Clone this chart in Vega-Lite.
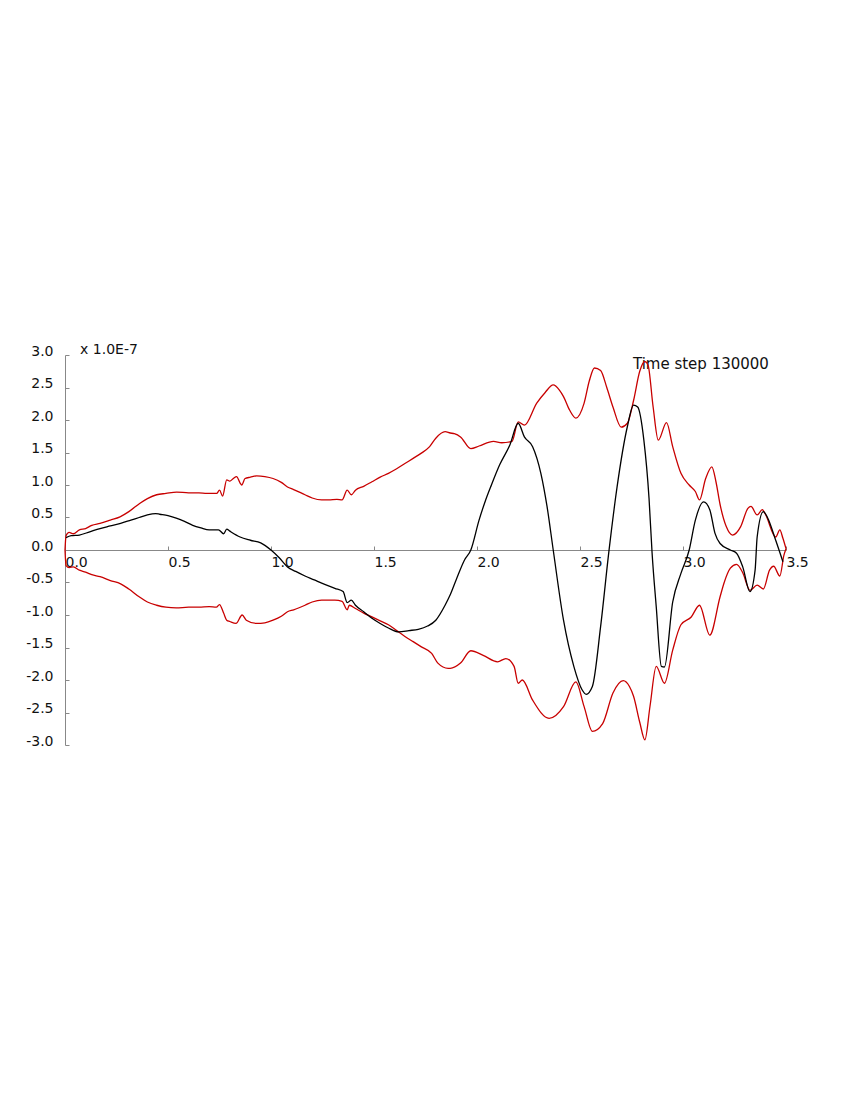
{
  "$schema": "https://vega.github.io/schema/vega-lite/v6.json",
  "width": 721,
  "height": 390,
  "autosize": {"type": "none"},
  "padding": {"left": 65, "top": 355, "right": 64, "bottom": 355},
  "background": "white",
  "config": {
    "view": {"stroke": null},
    "axis": {"labelOverlap": false, "labelSeparation": 0, "labelBound": false, "labelFlush": false, "grid": false, "domainColor": "#888888", "tickColor": "#888888", "tickSize": -4, "labelFont": "DejaVu Sans", "labelFontSize": 14, "labelColor": "#111111", "title": null},
    "axisY": {"labelAlign": "right", "labelBaseline": "alphabetic", "labelPadding": 16, "labelOverlap": false},
    "axisX": {"labelAlign": "left", "labelBaseline": "top", "labelPadding": 9, "labelDx": 1, "labelOverlap": false}
  },
  "datasets": {
    "upper": [
      {"x":0,"y":0},{"x":0.005,"y":0.22},{"x":0.02,"y":0.27},{"x":0.04,"y":0.25},{"x":0.07,"y":0.31},{"x":0.1,"y":0.33},{"x":0.13,"y":0.38},{"x":0.17,"y":0.41},{"x":0.22,"y":0.46},{"x":0.267,"y":0.51},{"x":0.31,"y":0.59},{"x":0.364,"y":0.72},{"x":0.4,"y":0.79},{"x":0.445,"y":0.85},{"x":0.49,"y":0.87},{"x":0.542,"y":0.89},{"x":0.6,"y":0.88},{"x":0.65,"y":0.88},{"x":0.688,"y":0.87},{"x":0.736,"y":0.87},{"x":0.75,"y":0.92},{"x":0.765,"y":0.83},{"x":0.785,"y":1.08},{"x":0.8,"y":1.06},{"x":0.817,"y":1.1},{"x":0.833,"y":1.13},{"x":0.85,"y":1.03},{"x":0.858,"y":1.0},{"x":0.874,"y":1.1},{"x":0.9,"y":1.12},{"x":0.93,"y":1.14},{"x":0.97,"y":1.13},{"x":1.01,"y":1.1},{"x":1.05,"y":1.04},{"x":1.08,"y":0.97},{"x":1.11,"y":0.93},{"x":1.165,"y":0.85},{"x":1.2,"y":0.8},{"x":1.246,"y":0.77},{"x":1.28,"y":0.77},{"x":1.32,"y":0.78},{"x":1.345,"y":0.77},{"x":1.37,"y":0.92},{"x":1.39,"y":0.85},{"x":1.41,"y":0.92},{"x":1.45,"y":0.98},{"x":1.49,"y":1.05},{"x":1.53,"y":1.12},{"x":1.57,"y":1.18},{"x":1.61,"y":1.25},{"x":1.65,"y":1.33},{"x":1.69,"y":1.41},{"x":1.73,"y":1.49},{"x":1.77,"y":1.59},{"x":1.8,"y":1.72},{"x":1.845,"y":1.82},{"x":1.87,"y":1.8},{"x":1.89,"y":1.79},{"x":1.92,"y":1.74},{"x":1.97,"y":1.56},{"x":2.01,"y":1.6},{"x":2.08,"y":1.67},{"x":2.12,"y":1.65},{"x":2.17,"y":1.67},{"x":2.2,"y":1.97},{"x":2.23,"y":1.92},{"x":2.29,"y":2.26},{"x":2.33,"y":2.42},{"x":2.37,"y":2.54},{"x":2.4,"y":2.46},{"x":2.42,"y":2.36},{"x":2.45,"y":2.15},{"x":2.48,"y":2.03},{"x":2.52,"y":2.26},{"x":2.545,"y":2.6},{"x":2.57,"y":2.8},{"x":2.6,"y":2.76},{"x":2.63,"y":2.5},{"x":2.66,"y":2.2},{"x":2.7,"y":1.89},{"x":2.73,"y":1.95},{"x":2.76,"y":2.3},{"x":2.79,"y":2.75},{"x":2.815,"y":2.9},{"x":2.83,"y":2.85},{"x":2.855,"y":2.2},{"x":2.88,"y":1.69},{"x":2.92,"y":1.96},{"x":2.95,"y":1.59},{"x":2.99,"y":1.18},{"x":3.03,"y":1.0},{"x":3.06,"y":0.9},{"x":3.08,"y":0.77},{"x":3.11,"y":1.1},{"x":3.14,"y":1.28},{"x":3.16,"y":1.05},{"x":3.18,"y":0.7},{"x":3.21,"y":0.36},{"x":3.24,"y":0.23},{"x":3.28,"y":0.36},{"x":3.315,"y":0.64},{"x":3.33,"y":0.67},{"x":3.36,"y":0.54},{"x":3.385,"y":0.62},{"x":3.4,"y":0.55},{"x":3.45,"y":0.2},{"x":3.47,"y":0.31},{"x":3.485,"y":0.18},{"x":3.5,"y":0.02}
    ],
    "lower": [
      {"x":0,"y":0},{"x":0.005,"y":-0.24},{"x":0.02,"y":-0.27},{"x":0.04,"y":-0.26},{"x":0.07,"y":-0.31},{"x":0.1,"y":-0.34},{"x":0.13,"y":-0.38},{"x":0.17,"y":-0.41},{"x":0.22,"y":-0.47},{"x":0.27,"y":-0.52},{"x":0.31,"y":-0.6},{"x":0.36,"y":-0.72},{"x":0.4,"y":-0.8},{"x":0.445,"y":-0.85},{"x":0.49,"y":-0.88},{"x":0.54,"y":-0.89},{"x":0.6,"y":-0.88},{"x":0.65,"y":-0.88},{"x":0.7,"y":-0.87},{"x":0.735,"y":-0.88},{"x":0.75,"y":-0.84},{"x":0.77,"y":-0.97},{"x":0.785,"y":-1.08},{"x":0.8,"y":-1.1},{"x":0.83,"y":-1.13},{"x":0.86,"y":-1.0},{"x":0.88,"y":-1.08},{"x":0.93,"y":-1.13},{"x":0.97,"y":-1.12},{"x":1.01,"y":-1.08},{"x":1.05,"y":-1.02},{"x":1.08,"y":-0.95},{"x":1.11,"y":-0.92},{"x":1.165,"y":-0.85},{"x":1.2,"y":-0.8},{"x":1.246,"y":-0.77},{"x":1.31,"y":-0.77},{"x":1.345,"y":-0.79},{"x":1.37,"y":-0.92},{"x":1.38,"y":-0.85},{"x":1.41,"y":-0.9},{"x":1.45,"y":-0.97},{"x":1.49,"y":-1.03},{"x":1.53,"y":-1.09},{"x":1.57,"y":-1.15},{"x":1.61,"y":-1.24},{"x":1.65,"y":-1.33},{"x":1.69,"y":-1.41},{"x":1.73,"y":-1.49},{"x":1.78,"y":-1.59},{"x":1.81,"y":-1.74},{"x":1.86,"y":-1.82},{"x":1.87,"y":-1.82},{"x":1.92,"y":-1.74},{"x":1.97,"y":-1.55},{"x":2.03,"y":-1.62},{"x":2.1,"y":-1.72},{"x":2.14,"y":-1.67},{"x":2.18,"y":-1.79},{"x":2.2,"y":-2.05},{"x":2.22,"y":-2.0},{"x":2.27,"y":-2.31},{"x":2.35,"y":-2.59},{"x":2.42,"y":-2.41},{"x":2.48,"y":-2.03},{"x":2.52,"y":-2.41},{"x":2.56,"y":-2.79},{"x":2.61,"y":-2.67},{"x":2.66,"y":-2.2},{"x":2.71,"y":-2.01},{"x":2.74,"y":-2.1},{"x":2.76,"y":-2.25},{"x":2.79,"y":-2.65},{"x":2.815,"y":-2.92},{"x":2.84,"y":-2.4},{"x":2.87,"y":-1.79},{"x":2.91,"y":-2.05},{"x":2.95,"y":-1.54},{"x":2.99,"y":-1.15},{"x":3.04,"y":-1.03},{"x":3.08,"y":-0.85},{"x":3.13,"y":-1.31},{"x":3.18,"y":-0.72},{"x":3.2,"y":-0.5},{"x":3.23,"y":-0.28},{"x":3.26,"y":-0.22},{"x":3.29,"y":-0.35},{"x":3.325,"y":-0.62},{"x":3.36,"y":-0.54},{"x":3.39,"y":-0.6},{"x":3.42,"y":-0.31},{"x":3.44,"y":-0.25},{"x":3.47,"y":-0.4},{"x":3.49,"y":-0.08},{"x":3.5,"y":0.02}
    ],
    "signal": [
      {"x":0.005,"y":0.19},{"x":0.03,"y":0.22},{"x":0.07,"y":0.23},{"x":0.12,"y":0.28},{"x":0.17,"y":0.33},{"x":0.22,"y":0.37},{"x":0.27,"y":0.41},{"x":0.32,"y":0.46},{"x":0.36,"y":0.5},{"x":0.4,"y":0.54},{"x":0.44,"y":0.56},{"x":0.46,"y":0.55},{"x":0.5,"y":0.53},{"x":0.54,"y":0.49},{"x":0.58,"y":0.44},{"x":0.62,"y":0.38},{"x":0.66,"y":0.34},{"x":0.7,"y":0.31},{"x":0.745,"y":0.31},{"x":0.77,"y":0.25},{"x":0.785,"y":0.32},{"x":0.8,"y":0.29},{"x":0.85,"y":0.2},{"x":0.9,"y":0.15},{"x":0.95,"y":0.11},{"x":1.0,"y":0.0},{"x":1.04,"y":-0.12},{"x":1.08,"y":-0.26},{"x":1.12,"y":-0.33},{"x":1.165,"y":-0.4},{"x":1.21,"y":-0.46},{"x":1.246,"y":-0.51},{"x":1.31,"y":-0.59},{"x":1.35,"y":-0.64},{"x":1.37,"y":-0.81},{"x":1.39,"y":-0.77},{"x":1.41,"y":-0.85},{"x":1.45,"y":-0.95},{"x":1.49,"y":-1.05},{"x":1.53,"y":-1.13},{"x":1.57,"y":-1.2},{"x":1.62,"y":-1.26},{"x":1.67,"y":-1.24},{"x":1.715,"y":-1.22},{"x":1.76,"y":-1.17},{"x":1.8,"y":-1.08},{"x":1.845,"y":-0.85},{"x":1.87,"y":-0.69},{"x":1.9,"y":-0.45},{"x":1.94,"y":-0.15},{"x":1.97,"y":0.0},{"x":2.01,"y":0.46},{"x":2.04,"y":0.75},{"x":2.07,"y":1.0},{"x":2.11,"y":1.31},{"x":2.16,"y":1.62},{"x":2.2,"y":1.95},{"x":2.23,"y":1.74},{"x":2.27,"y":1.59},{"x":2.31,"y":1.18},{"x":2.34,"y":0.67},{"x":2.37,"y":0.0},{"x":2.42,"y":-1.08},{"x":2.47,"y":-1.79},{"x":2.51,"y":-2.15},{"x":2.53,"y":-2.22},{"x":2.56,"y":-2.1},{"x":2.6,"y":-1.18},{"x":2.64,"y":-0.03},{"x":2.68,"y":0.97},{"x":2.73,"y":1.9},{"x":2.76,"y":2.23},{"x":2.78,"y":2.2},{"x":2.81,"y":1.69},{"x":2.835,"y":0.8},{"x":2.85,"y":-0.05},{"x":2.87,"y":-0.87},{"x":2.895,"y":-1.79},{"x":2.91,"y":-1.8},{"x":2.95,"y":-0.8},{"x":2.99,"y":-0.36},{"x":3.03,"y":0.0},{"x":3.06,"y":0.46},{"x":3.1,"y":0.74},{"x":3.13,"y":0.62},{"x":3.155,"y":0.26},{"x":3.18,"y":0.1},{"x":3.23,"y":0.0},{"x":3.26,"y":-0.05},{"x":3.29,"y":-0.26},{"x":3.325,"y":-0.64},{"x":3.35,"y":-0.31},{"x":3.36,"y":0.2},{"x":3.39,"y":0.59},{"x":3.41,"y":0.5},{"x":3.45,"y":0.15},{"x":3.485,"y":-0.18}
    ],
    "one": [{}]
  },
  "encoding": {
    "x": {
      "type": "quantitative",
      "scale": {"domain": [0, 3.5], "nice": false, "zero": false},
      "axis": {"orient": "bottom", "offset": -195, "values": [0, 0.5, 1, 1.5, 2, 2.5, 3, 3.5], "labelExpr": "format(datum.value, '.1f')", "labelOverlap": false}
    },
    "y": {
      "type": "quantitative",
      "scale": {"domain": [-3, 3], "nice": false, "zero": false},
      "axis": {"orient": "left", "values": [-3, -2.5, -2, -1.5, -1, -0.5, 0, 0.5, 1, 1.5, 2, 2.5, 3], "labelExpr": "replace(format(datum.value, '.1f'), '\u2212', '-')", "labelOverlap": false}
    }
  },
  "layer": [
    {
      "data": {"name": "one"},
      "mark": {"type": "text", "align": "left", "baseline": "middle", "font": "DejaVu Sans", "fontSize": 14, "color": "#111111"},
      "encoding": {
        "x": {"datum": 0.073, "type": "quantitative"},
        "y": {"datum": 3.08, "type": "quantitative"},
        "text": {"value": "x 1.0E-7"}
      }
    },
    {
      "data": {"name": "one"},
      "mark": {"type": "text", "align": "left", "baseline": "middle", "font": "DejaVu Sans", "fontSize": 15, "color": "#111111"},
      "encoding": {
        "x": {"datum": 2.757, "type": "quantitative"},
        "y": {"datum": 2.86, "type": "quantitative"},
        "text": {"value": "Time step 130000"}
      }
    },
    {
      "data": {"name": "upper"},
      "mark": {"type": "line", "color": "#c80000", "strokeWidth": 1.3, "interpolate": "monotone", "clip": false},
      "encoding": {"x": {"field": "x", "type": "quantitative"}, "y": {"field": "y", "type": "quantitative"}}
    },
    {
      "data": {"name": "lower"},
      "mark": {"type": "line", "color": "#c80000", "strokeWidth": 1.3, "interpolate": "monotone", "clip": false},
      "encoding": {"x": {"field": "x", "type": "quantitative"}, "y": {"field": "y", "type": "quantitative"}}
    },
    {
      "data": {"name": "signal"},
      "mark": {"type": "line", "color": "#000000", "strokeWidth": 1.3, "interpolate": "monotone", "clip": false},
      "encoding": {"x": {"field": "x", "type": "quantitative"}, "y": {"field": "y", "type": "quantitative"}}
    }
  ]
}
